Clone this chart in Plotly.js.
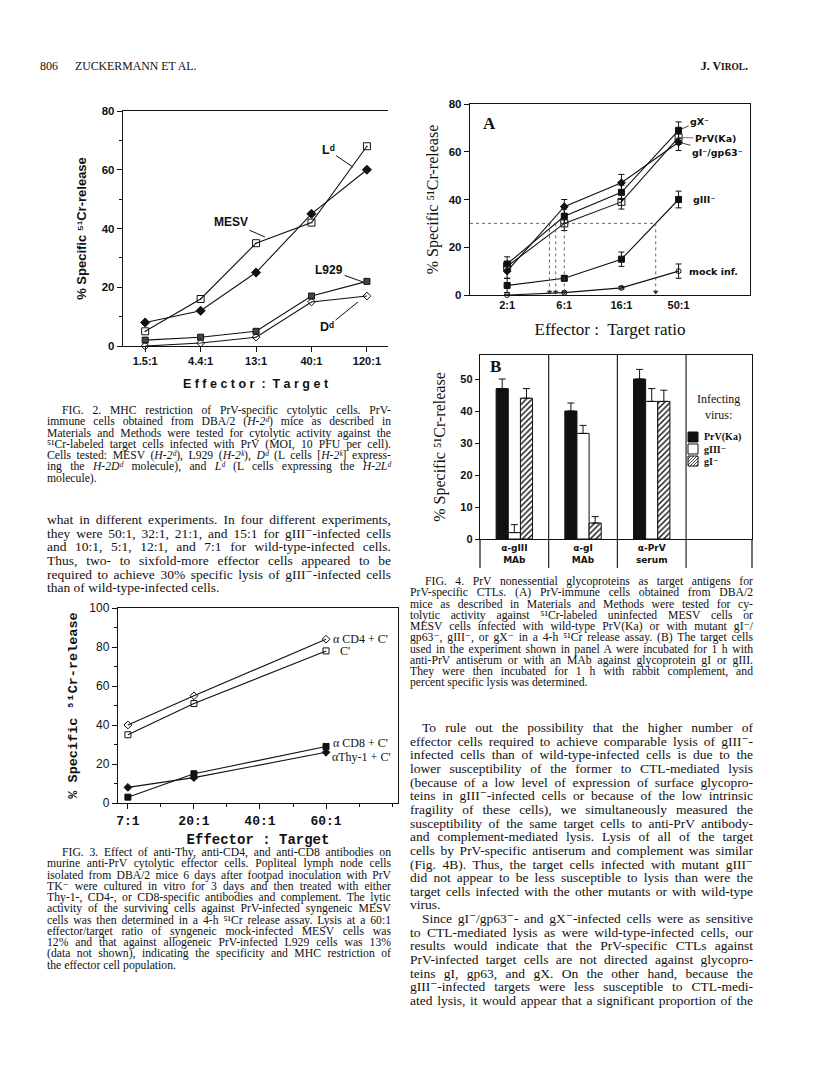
<!DOCTYPE html>
<html><head><meta charset="utf-8">
<script src="https://cdn.plot.ly/plotly-3.0.1.min.js"></script>
<style>
body{margin:0;background:#fff;}
#page{position:relative;width:816px;height:1076px;overflow:hidden;background:#fff;}
#plot{position:absolute;left:0;top:0;width:816px;height:1076px;}
.ln{position:absolute;white-space:nowrap;font-family:"Liberation Serif","DejaVu Serif",serif;color:#111;}
.ln span{display:inline-block;white-space:nowrap;transform-origin:0 50%;overflow:visible;}
</style></head>
<body><div id="page"><div id="plot"></div><div id="txt"></div></div>
<script>
// ---------------- DATA ----------------
// Fig. 2
const fig2Cats = ['1.5:1','4.4:1','13:1','40:1','120:1'];
const fig2MESV = [5,16,35,42,68];
const fig2Ld   = [8,12,25,45,60];
const fig2L929 = [2,3,5,17,22];
const fig2Dd   = [0,1,3,15,17];
// Fig. 3
const fig3Cats = ['7:1','20:1','40:1','60:1'];
const fig3Ratios = ['7:1','20:1','60:1'];
const fig3CD4  = [40,55,84];
const fig3C    = [35,51,78];
const fig3CD8  = [3,15,29];
const fig3Thy1 = [8,13,26];
// Fig. 4A
const fig4aCats = ['2:1','6:1','16:1','50:1'];
const fig4aGX    = [13,33,43,69];
const fig4aGXErr = [3,3,3,3.5];
const fig4aPrV    = [12,30,39,66];
const fig4aPrVErr = [2,3,3,3];
const fig4aGI    = [10,37,47,64];
const fig4aGIErr = [3,3,3.5,3.5];
const fig4aGIII    = [4,7,15,40];
const fig4aGIIIErr = [3,1,3,3.5];
const fig4aMock    = [0,1,3,10];
const fig4aMockErr = [0,0,0.5,3];
const lysisLevel = 30;
// Fig. 4B
const fig4bGroups = ['α-gIII<br>MAb','α-gI<br>MAb','α-PrV<br>serum'];
const fig4bPrV    = [47,40,50];
const fig4bPrVErr = [3,2.5,3];
const fig4bGIII    = [2,33,43];
const fig4bGIIIErr = [2.5,2.5,4];
const fig4bGI    = [44,5,43];
const fig4bGIErr = [3,2,3.5];
const fig4bLegendTitle = 'Infecting<br>virus:';
const fig4bLegendNames = ['PrV(Ka)','gIII⁻','gI⁻'];
const yTitle = '% Specific ⁵¹Cr-release';

// ---------------- TEXT ----------------
const headerLeftNum = '806';
const headerLeft = 'ZUCKERMANN ET AL.';
const headerRight = 'J. V<span style="font-size:0.78em">IROL</span>.';
const fig2Caption = [
 "\tFIG. 2. MHC restriction of PrV-specific cytolytic cells. PrV-",
 "immune cells obtained from DBA/2 (<i>H-2ᵈ</i>) mice as described in",
 "Materials and Methods were tested for cytolytic activity against the",
 "⁵¹Cr-labeled target cells infected with PrV (MOI, 10 PFU per cell).",
 "Cells tested: MESV (<i>H-2ᵈ</i>), L929 (<i>H-2ᵏ</i>), <i>Dᵈ</i> (L cells [<i>H-2ᵏ</i>] express-",
 "ing the <i>H-2Dᵈ</i> molecule), and <i>Lᵈ</i> (L cells expressing the <i>H-2Lᵈ</i>",
 "molecule).\n"
];
const leftBody = [
 "what in different experiments. In four different experiments,",
 "they were 50:1, 32:1, 21:1, and 15:1 for gIII⁻-infected cells",
 "and 10:1, 5:1, 12:1, and 7:1 for wild-type-infected cells.",
 "Thus, two- to sixfold-more effector cells appeared to be",
 "required to achieve 30% specific lysis of gIII⁻-infected cells",
 "than of wild-type-infected cells.\n"
];
const fig3Caption = [
 "\tFIG. 3. Effect of anti-Thy, anti-CD4, and anti-CD8 antibodies on",
 "murine anti-PrV cytolytic effector cells. Popliteal lymph node cells",
 "isolated from DBA/2 mice 6 days after footpad inoculation with PrV",
 "TK⁻ were cultured in vitro for 3 days and then treated with either",
 "Thy-1-, CD4-, or CD8-specific antibodies and complement. The lytic",
 "activity of the surviving cells against PrV-infected syngeneic MESV",
 "cells was then determined in a 4-h ⁵¹Cr release assay. Lysis at a 60:1",
 "effector/target ratio of syngeneic mock-infected MESV cells was",
 "12% and that against allogeneic PrV-infected L929 cells was 13%",
 "(data not shown), indicating the specificity and MHC restriction of",
 "the effector cell population.\n"
];
const fig4Caption = [
 "\tFIG. 4. PrV nonessential glycoproteins as target antigens for",
 "PrV-specific CTLs. (A) PrV-immune cells obtained from DBA/2",
 "mice as described in Materials and Methods were tested for cy-",
 "tolytic activity against ⁵¹Cr-labeled uninfected MESV cells or",
 "MESV cells infected with wild-type PrV(Ka) or with mutant gI⁻/",
 "gp63⁻, gIII⁻, or gX⁻ in a 4-h ⁵¹Cr release assay. (B) The target cells",
 "used in the experiment shown in panel A were incubated for 1 h with",
 "anti-PrV antiserum or with an MAb against glycoprotein gI or gIII.",
 "They were then incubated for 1 h with rabbit complement, and",
 "percent specific lysis was determined.\n"
];
const rightBody = [
 "\tTo rule out the possibility that the higher number of",
 "effector cells required to achieve comparable lysis of gIII⁻-",
 "infected cells than of wild-type-infected cells is due to the",
 "lower susceptibility of the former to CTL-mediated lysis",
 "(because of a low level of expression of surface glycopro-",
 "teins in gIII⁻-infected cells or because of the low intrinsic",
 "fragility of these cells), we simultaneously measured the",
 "susceptibility of the same target cells to anti-PrV antibody-",
 "and complement-mediated lysis. Lysis of all of the target",
 "cells by PrV-specific antiserum and complement was similar",
 "(Fig. 4B). Thus, the target cells infected with mutant gIII⁻",
 "did not appear to be less susceptible to lysis than were the",
 "target cells infected with the other mutants or with wild-type",
 "virus.\n",
 "\tSince gI⁻/gp63⁻- and gX⁻-infected cells were as sensitive",
 "to CTL-mediated lysis as were wild-type-infected cells, our",
 "results would indicate that the PrV-specific CTLs against",
 "PrV-infected target cells are not directed against glycopro-",
 "teins gI, gp63, and gX. On the other hand, because the",
 "gIII⁻-infected targets were less susceptible to CTL-medi-",
 "ated lysis, it would appear that a significant proportion of the"
];

// ---------------- TEXT LAYOUT ----------------
const txt = document.getElementById('txt');
function place(html, x, y, fs, extra){
  const d = document.createElement('div');
  d.className = 'ln';
  d.style.left = x+'px'; d.style.top = y+'px'; d.style.fontSize = fs+'px';
  d.style.lineHeight = Math.round(fs*1.2)+'px';
  if(extra) Object.assign(d.style, extra);
  d.innerHTML = '<span>'+html+'</span>';
  txt.appendChild(d);
  return d;
}
function block(lines, x, top, width, fs, lh, indent){
  lines.forEach((raw,i)=>{
    const ind = raw.startsWith('\t');
    const last = raw.endsWith('\n');
    const html = raw.replace(/^\t/,'').replace(/\n$/,'');
    const lx = x + (ind?indent:0), w = width - (ind?indent:0);
    const d = document.createElement('div');
    d.className='ln';
    d.style.left = lx+'px'; d.style.top = (top+i*lh)+'px';
    d.style.fontSize = fs+'px'; d.style.lineHeight = lh+'px'; d.style.height = lh+'px';
    const s = document.createElement('span'); s.innerHTML = html; s.style.height = lh+'px';
    d.appendChild(s);
    txt.appendChild(d);
    const nat = s.getBoundingClientRect().width;
    if(nat > w){ s.style.transform = 'scaleX('+(w/nat)+')'; }
    else if(!last){
      const n = (s.textContent.match(/ /g)||[]).length;
      if(n>0) s.style.wordSpacing = ((w-nat)/n)+'px';
    }
  });
}
place(headerLeftNum, 40, 59, 12);
place(headerLeft, 75, 59, 11.8);
const hr = place(headerRight, 0, 59, 12, {fontWeight:'bold'});
hr.style.left = (748 - hr.getBoundingClientRect().width)+'px';

const capFs = 11.7, capLh = 11.25, bodyFs = 13.5, bodyLh = 13.65;
block(fig2Caption, 47, 405, 344, capFs, capLh, 15);
block(leftBody, 47, 513, 344, bodyFs, bodyLh, 12);
block(fig3Caption, 47, 847, 344, capFs, capLh, 15);
block(fig4Caption, 410, 576, 343, capFs, capLh, 15);
block(rightBody, 410, 721, 343, bodyFs, bodyLh, 12);

// ---------------- PLOT ----------------
const W = 816, H = 1076;
const px = v => v/W, py = v => 1 - v/H;
const idxs = a => a.map((_,i)=>i);
const K = '#111';
const sansB = {family:'Liberation Sans, DejaVu Sans, sans-serif', weight:'bold', color:K};
const serif = 'Liberation Serif, DejaVu Serif, serif';
const mono = 'Liberation Mono, DejaVu Sans Mono, monospace';
const lineSt = {color:K, width:1.1};

const traces = [];
function sc(xa, ya, x, y, sym, size, extra){
  const t = {type:'scatter', mode:'lines+markers', x:x, y:y, xaxis:xa, yaxis:ya,
    line:lineSt, marker:{symbol:sym, size:size, color:K, line:{color:K, width:1}},
    showlegend:false, cliponaxis:false, hoverinfo:'skip'};
  return Object.assign(t, extra||{});
}
// Fig 2
const f2x = idxs(fig2Cats);
traces.push(sc('x','y',f2x,fig2MESV,'square-open-dot',7,{name:'MESV'}));
traces.push(sc('x','y',f2x,fig2Ld,'diamond',7,{name:'Ld'}));
traces.push(sc('x','y',f2x,fig2L929,'square',6,{name:'L929', marker:{symbol:'square',size:6,color:'#444',line:{color:K,width:1}}}));
traces.push(sc('x','y',f2x,fig2Dd,'diamond-open',6,{name:'Dd', marker:{symbol:'diamond-open',size:6,color:K,line:{color:K,width:1}}}));
// Fig 3
const f3x = fig3Ratios.map(r=>fig3Cats.indexOf(r));
traces.push(sc('x2','y2',f3x,fig3CD4,'diamond-open',6,{name:'αCD4 + C\''}));
traces.push(sc('x2','y2',f3x,fig3C,'square-open',6,{name:'C\''}));
traces.push(sc('x2','y2',f3x,fig3CD8,'square',6,{name:'αCD8 + C\''}));
traces.push(sc('x2','y2',f3x,fig3Thy1,'diamond',6,{name:'αThy-1 + C\''}));
// Fig 4A
const f4x = idxs(fig4aCats);
const eb = arr => ({type:'data', array:arr, visible:true, color:K, thickness:1, width:3});
traces.push(sc('x3','y3',f4x,fig4aGX,'square',6,{name:'gX−', error_y:eb(fig4aGXErr)}));
traces.push(sc('x3','y3',f4x,fig4aPrV,'square-open-dot',7,{name:'PrV(Ka)', error_y:eb(fig4aPrVErr)}));
traces.push(sc('x3','y3',f4x,fig4aGI,'diamond',6,{name:'gI−/gp63−', error_y:eb(fig4aGIErr)}));
traces.push(sc('x3','y3',f4x,fig4aGIII,'square',6,{name:'gIII−', error_y:eb(fig4aGIIIErr)}));
traces.push(sc('x3','y3',f4x,fig4aMock,'circle-open',5,{name:'mock inf.', error_y:eb(fig4aMockErr)}));
// 30% crossings
function crossing(vals, level){
  for(let i=0;i<vals.length-1;i++){
    if(vals[i] < level && vals[i+1] >= level) return i + (level-vals[i])/(vals[i+1]-vals[i]);
  }
  return null;
}
const f4aRange = [-0.65, 4.25];
const crosses = [fig4aGI, fig4aGX, fig4aPrV, fig4aGIII].map(v=>crossing(v, lysisLevel));
const maxC = Math.max(...crosses);
const gx = [f4aRange[0], maxC], gy = [lysisLevel, lysisLevel];
crosses.forEach(c=>{ gx.push(null, c, c); gy.push(null, lysisLevel, 0); });
traces.push({type:'scatter', mode:'lines', x:gx, y:gy, xaxis:'x3', yaxis:'y3',
  line:{color:'#555', width:0.9, dash:'dot'}, showlegend:false, hoverinfo:'skip'});
traces.push({type:'scatter', mode:'markers', x:crosses, y:crosses.map(()=>1.3), xaxis:'x3', yaxis:'y3',
  marker:{symbol:'triangle-down', size:5, color:'#333'}, showlegend:false, hoverinfo:'skip', cliponaxis:false});
// Fig 4B
const f4bx = idxs(fig4bGroups);
const ebb = arr => ({type:'data', symmetric:false, array:arr, arrayminus:arr.map(()=>0), color:K, thickness:1, width:3.5});
traces.push({type:'bar', name:fig4bLegendNames[0], x:f4bx, y:fig4bPrV, xaxis:'x4', yaxis:'y4', showlegend:false,
  marker:{color:K, line:{color:K, width:1}}, error_y:ebb(fig4bPrVErr), hoverinfo:'skip'});
traces.push({type:'bar', name:fig4bLegendNames[1], x:f4bx, y:fig4bGIII, xaxis:'x4', yaxis:'y4', showlegend:false,
  marker:{color:'#fff', line:{color:K, width:1}}, error_y:ebb(fig4bGIIIErr), hoverinfo:'skip'});
traces.push({type:'bar', name:fig4bLegendNames[2], x:f4bx, y:fig4bGI, xaxis:'x4', yaxis:'y4', showlegend:false,
  marker:{color:'#fff', line:{color:K, width:1}, pattern:{shape:'/', fgcolor:K, bgcolor:'#fff', size:4, solidity:0.35}},
  error_y:ebb(fig4bGIErr), hoverinfo:'skip'});

const axBase = {showline:true, linecolor:K, linewidth:1.2, showgrid:false, zeroline:false,
  ticks:'outside', tickcolor:K, ticklen:5, tickwidth:1};

// manual legend for panel B (swatches as shapes, names as text)
const legX = 688, legY0 = 432, legStep = 12, sw = 10;
const legendShapes = [], legendAnn = [];
const swStyles = [{fill:K},{fill:'#fff'},{fill:'#fff', hatch:true}];
swStyles.forEach((st,i)=>{
  const x0 = legX, y0 = legY0 + i*legStep;
  legendShapes.push({type:'rect', xref:'paper', yref:'paper', x0:px(x0), x1:px(x0+sw), y0:py(y0+sw), y1:py(y0),
    fillcolor:st.fill, line:{color:K, width:1}});
  if(st.hatch){
    for(let c = x0+y0+3; c < x0+y0+2*sw; c += 3){
      const xa = Math.max(x0, c-(y0+sw)), xb = Math.min(x0+sw, c-y0);
      legendShapes.push({type:'line', xref:'paper', yref:'paper', x0:px(xa), y0:py(c-xa), x1:px(xb), y1:py(c-xb), line:{color:K, width:0.8}});
    }
  }
  legendAnn.push({xref:'paper', yref:'paper', x:px(x0+sw+4), y:py(y0+sw/2), xanchor:'left', yanchor:'middle',
    text:fig4bLegendNames[i], showarrow:false, font:{family:serif, size:10, weight:'bold', color:K}});
});

const lab4a = {family:'DejaVu Sans, sans-serif', size:9.5, weight:'bold', color:K};
const layout = {
  width:W, height:H, margin:{l:0,r:0,t:0,b:0}, paper_bgcolor:'#fff', plot_bgcolor:'rgba(0,0,0,0)',
  showlegend:false, barmode:'group', bargap:0.47, bargroupgap:0,
  xaxis: Object.assign({}, axBase, {domain:[px(123),px(388)], anchor:'y', range:[-0.4,4.38], mirror:true,
    tickvals:f2x, ticktext:fig2Cats, tickfont:Object.assign({},sansB,{size:11}),
    title:{text:'E f f e c t o r  :  T a r g e t', font:Object.assign({},sansB,{size:12.5}), standoff:12}}),
  yaxis: Object.assign({}, axBase, {domain:[py(346),py(111)], anchor:'x', range:[0,80], tickvals:[0,20,40,60,80],
    minor:{tickvals:[10,30,50,70], ticks:'outside', ticklen:3, tickcolor:K},
    tickfont:Object.assign({},sansB,{size:11.5}),
    title:{text:yTitle, font:Object.assign({},sansB,{size:13}), standoff:12}}),
  xaxis2: Object.assign({}, axBase, {domain:[px(118),px(398)], anchor:'y2', range:[-0.15,4.09], mirror:true,
    tickvals:idxs(fig3Cats), ticktext:fig3Cats, minor:{dtick:0.5, ticks:'outside', ticklen:3, tickcolor:K},
    tickfont:{family:mono, size:13, weight:'bold', color:K},
    title:{text:'Effector : Target', font:{family:mono, size:14, weight:'bold', color:K}, standoff:6}}),
  yaxis2: Object.assign({}, axBase, {domain:[py(803),py(608)], anchor:'x2', range:[0,100], mirror:true,
    tickvals:[0,20,40,60,80,100], minor:{dtick:10, ticks:'outside', ticklen:3, tickcolor:K},
    tickfont:{family:'Liberation Sans, Arial, sans-serif', size:12, color:K},
    title:{text:yTitle, font:{family:mono, size:13.5, weight:'bold', color:K}, standoff:8}}),
  xaxis3: Object.assign({}, axBase, {domain:[px(470),px(750)], anchor:'y3', range:f4aRange, mirror:true,
    tickvals:f4x, ticktext:fig4aCats, ticks:'', tickfont:Object.assign({},sansB,{size:11}),
    title:{text:'Effector :  Target ratio', font:{family:serif, size:17, color:K}, standoff:12}}),
  yaxis3: Object.assign({}, axBase, {domain:[py(295),py(104)], anchor:'x3', range:[0,80], mirror:true,
    tickvals:[0,20,40,60,80], tickfont:Object.assign({},sansB,{size:11.5}),
    title:{text:yTitle, font:{family:serif, size:16, color:K}, standoff:6}}),
  xaxis4: Object.assign({}, axBase, {domain:[px(480),px(752)], anchor:'y4', range:[-0.5,3.46], mirror:true,
    tickvals:f4bx, ticktext:fig4bGroups, ticks:'', tickfont:{family:'DejaVu Sans, sans-serif', size:9, weight:'bold', color:K}}),
  yaxis4: Object.assign({}, axBase, {domain:[py(539),py(355)], anchor:'x4', range:[0,57.5], mirror:true,
    tickvals:[0,10,20,30,40,50], ticklen:4, tickfont:Object.assign({},sansB,{size:11}),
    title:{text:yTitle, font:{family:serif, size:16, color:K}, standoff:10}}),
  shapes: [
    ...[0.5,1.5,2.5].map(v=>({type:'line', xref:'x4', yref:'paper', x0:v, x1:v, y0:py(568), y1:py(355), line:{color:K,width:1.1}})),
    ...[0,1].map(v=>({type:'line', xref:'x4 domain', yref:'paper', x0:v, x1:v, y0:py(568), y1:py(539), line:{color:K,width:1.2}})),
    ...legendShapes
  ],
  annotations: [
    // Fig 2 labels
    {xref:'x', yref:'y', x:3.75, y:60.9, ax:-25, ay:-17, text:'Lᵈ', showarrow:true, arrowhead:0, arrowwidth:1, arrowcolor:K, font:Object.assign({},sansB,{size:12.5})},
    {xref:'x', yref:'y', x:2.16, y:37.1, ax:-34, ay:-15, text:'MESV', showarrow:true, arrowhead:0, arrowwidth:1, arrowcolor:K, font:Object.assign({},sansB,{size:12})},
    {xref:'x', yref:'y', x:3.93, y:21.8, ax:-34, ay:-12, text:'L929', showarrow:true, arrowhead:0, arrowwidth:1, arrowcolor:K, font:Object.assign({},sansB,{size:12})},
    {xref:'x', yref:'y', x:3.84, y:15, ax:-31, ay:25, text:'Dᵈ', showarrow:true, arrowhead:0, arrowwidth:1, arrowcolor:K, font:Object.assign({},sansB,{size:12.5})},
    // Fig 3 labels
    {xref:'x2', yref:'y2', x:f3x[2], y:fig3CD4[2], xanchor:'left', xshift:5, text:'α CD4 + C\'', showarrow:false, font:{family:serif, size:12, color:K}},
    {xref:'x2', yref:'y2', x:f3x[2], y:fig3C[2], xanchor:'left', xshift:12, text:'C\'', showarrow:false, font:{family:serif, size:12, color:K}},
    {xref:'x2', yref:'y2', x:f3x[2], y:fig3CD8[2], xanchor:'left', xshift:5, yshift:3, text:'α CD8 + C\'', showarrow:false, font:{family:serif, size:12, color:K}},
    {xref:'x2', yref:'y2', x:f3x[2], y:fig3Thy1[2], xanchor:'left', xshift:4, yshift:-5, text:'αThy-1 + C\'', showarrow:false, font:{family:serif, size:12, color:K}},
    // Fig 4A labels
    {xref:'x3 domain', yref:'y3 domain', x:0.04, y:0.96, xanchor:'left', yanchor:'top', text:'<b>A</b>', showarrow:false, font:{family:serif, size:17, color:K}},
    {xref:'x3', yref:'y3', x:3, y:fig4aGX[3], ax:21, ay:-9, text:'gX⁻', showarrow:true, arrowhead:0, arrowwidth:0.8, arrowcolor:K, font:lab4a},
    {xref:'x3', yref:'y3', x:3, y:fig4aPrV[3], ax:37, ay:1, text:'PrV(Ka)', showarrow:true, arrowhead:0, arrowwidth:0.8, arrowcolor:'#555', font:lab4a},
    {xref:'x3', yref:'y3', x:3, y:fig4aGI[3], ax:39, ay:10, text:'gI⁻/gp63⁻', showarrow:true, arrowhead:0, arrowwidth:0.8, arrowcolor:K, font:lab4a},
    {xref:'x3', yref:'y3', x:3, y:fig4aGIII[3], xanchor:'left', xshift:12, text:'gIII⁻', showarrow:false, font:lab4a},
    {xref:'x3', yref:'y3', x:3, y:fig4aMock[3], xanchor:'left', xshift:8, text:'mock inf.', showarrow:false, font:lab4a},
    // Fig 4B labels and legend
    {xref:'x4 domain', yref:'y4 domain', x:0.03, y:1.0, xanchor:'left', yanchor:'top', text:'<b>B</b>', showarrow:false, font:{family:serif, size:17, color:K}},
    {xref:'paper', yref:'paper', x:px(718), y:py(407), xanchor:'center', yanchor:'middle', align:'center', text:fig4bLegendTitle, showarrow:false, font:{family:serif, size:12, color:K}},
    ...legendAnn
  ]
};
Plotly.newPlot('plot', traces, layout, {displayModeBar:false, staticPlot:true});
</script>
</body></html>
